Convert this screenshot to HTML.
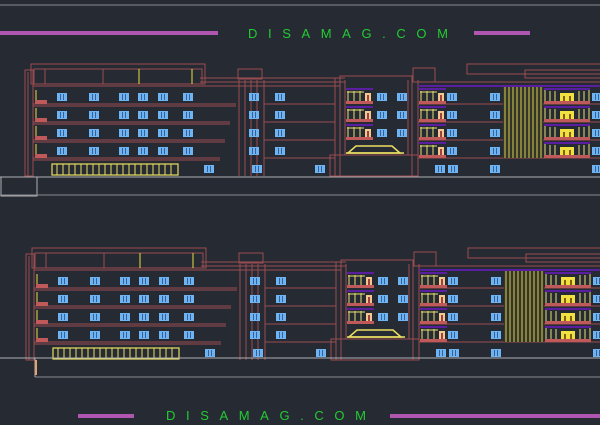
<!DOCTYPE html>
<html><head><meta charset="utf-8"><style>
html,body{margin:0;padding:0;background:#262a33;}
svg{display:block}
text{font-family:"Liberation Sans",sans-serif;}
</style></head><body>
<svg width="600" height="425" viewBox="0 0 600 425" xmlns="http://www.w3.org/2000/svg">
<defs>
<g id="w"><rect x="0" y="0" width="10" height="8" fill="#6eb4f2"/><line x1="3.5" y1="1" x2="3.5" y2="7" stroke="#2a4a80" stroke-width="0.8"/><line x1="6.5" y1="1" x2="6.5" y2="7" stroke="#2a4a80" stroke-width="0.8"/></g>
<g id="bal">
<rect x="0" y="0" width="27" height="2" fill="#5a1fa0"/>
<rect x="0" y="13" width="27" height="3" fill="#c05a5a"/>
<g stroke="#e8e070" stroke-width="1" fill="none"><line x1="2" y1="3" x2="2" y2="13"/><line x1="8" y1="3" x2="8" y2="13"/><line x1="14" y1="3" x2="14" y2="13"/><line x1="1" y1="4" x2="18" y2="4"/></g>
<rect x="19" y="5" width="6" height="8" fill="#f0c890"/><rect x="21" y="7" width="2" height="6" fill="#a04040"/>
</g>
<g id="bal2">
<rect x="0" y="0" width="46" height="2" fill="#5a1fa0"/>
<rect x="0" y="13" width="46" height="3" fill="#c05a5a"/>
<g stroke="#e8e070" stroke-width="1"><line x1="1" y1="2" x2="1" y2="13"/><line x1="6" y1="3" x2="6" y2="13"/><line x1="11" y1="3" x2="11" y2="13"/><line x1="35" y1="3" x2="35" y2="13"/><line x1="40" y1="3" x2="40" y2="13"/><line x1="45" y1="2" x2="45" y2="13"/></g>
<rect x="16" y="5" width="14" height="8" fill="#f0e040"/><rect x="19" y="8" width="2" height="5" fill="#806010"/><rect x="25" y="8" width="2" height="5" fill="#806010"/>
</g>
<g id="bldg" fill="none" stroke="#9a4c50" stroke-width="1">
<rect x="31" y="64" width="174" height="20"/>
<rect x="34" y="69" width="168" height="15"/>
<line x1="45" y1="69" x2="45" y2="84"/><line x1="103" y1="69" x2="103" y2="84"/>
<line x1="139" y1="69" x2="139" y2="84" stroke="#e8e040"/><line x1="192" y1="69" x2="192" y2="84" stroke="#e8e040"/>
<rect x="25" y="70" width="8" height="106"/>
<line x1="28" y1="72" x2="28" y2="176"/>
<line x1="33" y1="86" x2="340" y2="86"/>
<line x1="33" y1="104" x2="236" y2="104"/><line x1="33" y1="106" x2="236" y2="106"/>
<line x1="33" y1="122" x2="230" y2="122"/><line x1="33" y1="124" x2="230" y2="124"/>
<line x1="33" y1="140" x2="225" y2="140"/><line x1="33" y1="142" x2="225" y2="142"/>
<line x1="33" y1="158" x2="220" y2="158"/><line x1="33" y1="160" x2="220" y2="160"/>
<line x1="200" y1="78" x2="345" y2="78"/><line x1="200" y1="82" x2="345" y2="82"/>
<rect x="238" y="69" width="24" height="10"/>
<line x1="239" y1="80" x2="239" y2="176"/><line x1="245" y1="80" x2="245" y2="176"/><line x1="251" y1="80" x2="251" y2="176"/><line x1="257" y1="80" x2="257" y2="176"/><line x1="264" y1="80" x2="264" y2="176"/>
<line x1="264" y1="104" x2="335" y2="104"/><line x1="264" y1="122" x2="335" y2="122"/><line x1="264" y1="140" x2="335" y2="140"/><line x1="264" y1="158" x2="335" y2="158"/>
<line x1="335" y1="78" x2="335" y2="176"/>
<rect x="340" y="76" width="72" height="100"/>
<line x1="345" y1="80" x2="345" y2="155"/><line x1="408" y1="80" x2="408" y2="155"/>
<rect x="330" y="155" width="88" height="21"/>
<rect x="413" y="68" width="22" height="14"/>
<line x1="418" y1="82" x2="600" y2="82"/>
<rect x="467" y="64" width="140" height="10"/>
<rect x="525" y="70" width="80" height="8"/>
<line x1="418" y1="80" x2="418" y2="176"/>
<line x1="418" y1="104" x2="600" y2="104"/><line x1="418" y1="122" x2="600" y2="122"/><line x1="418" y1="140" x2="600" y2="140"/><line x1="418" y1="158" x2="600" y2="158"/>
</g>
<g id="fill">
<use href="#bldg"/>
<g fill="#c05a5a"><rect x="35" y="100" width="12" height="4"/><rect x="35" y="118" width="12" height="4"/><rect x="35" y="136" width="12" height="4"/><rect x="35" y="154" width="12" height="4"/></g>
<g stroke="#e8e040" stroke-width="1"><line x1="36" y1="90" x2="36" y2="100"/><line x1="36" y1="108" x2="36" y2="118"/><line x1="36" y1="126" x2="36" y2="136"/><line x1="36" y1="144" x2="36" y2="154"/></g>
<g>
<use href="#w" x="57" y="93"/><use href="#w" x="89" y="93"/><use href="#w" x="119" y="93"/><use href="#w" x="138" y="93"/><use href="#w" x="158" y="93"/><use href="#w" x="183" y="93"/><use href="#w" x="249" y="93"/><use href="#w" x="275" y="93"/>
<use href="#w" x="57" y="111"/><use href="#w" x="89" y="111"/><use href="#w" x="119" y="111"/><use href="#w" x="138" y="111"/><use href="#w" x="158" y="111"/><use href="#w" x="183" y="111"/><use href="#w" x="249" y="111"/><use href="#w" x="275" y="111"/>
<use href="#w" x="57" y="129"/><use href="#w" x="89" y="129"/><use href="#w" x="119" y="129"/><use href="#w" x="138" y="129"/><use href="#w" x="158" y="129"/><use href="#w" x="183" y="129"/><use href="#w" x="249" y="129"/><use href="#w" x="275" y="129"/>
<use href="#w" x="57" y="147"/><use href="#w" x="89" y="147"/><use href="#w" x="119" y="147"/><use href="#w" x="138" y="147"/><use href="#w" x="158" y="147"/><use href="#w" x="183" y="147"/><use href="#w" x="249" y="147"/><use href="#w" x="275" y="147"/>
<use href="#w" x="204" y="165"/><use href="#w" x="252" y="165"/><use href="#w" x="315" y="165"/>
<use href="#w" x="377" y="93"/><use href="#w" x="397" y="93"/><use href="#w" x="377" y="111"/><use href="#w" x="397" y="111"/><use href="#w" x="377" y="129"/><use href="#w" x="397" y="129"/>
<use href="#w" x="447" y="93"/><use href="#w" x="490" y="93"/><use href="#w" x="447" y="111"/><use href="#w" x="490" y="111"/><use href="#w" x="447" y="129"/><use href="#w" x="490" y="129"/><use href="#w" x="447" y="147"/><use href="#w" x="490" y="147"/>
<use href="#w" x="592" y="93"/><use href="#w" x="592" y="111"/><use href="#w" x="592" y="129"/><use href="#w" x="592" y="147"/>
<use href="#w" x="435" y="165"/><use href="#w" x="448" y="165"/><use href="#w" x="490" y="165"/><use href="#w" x="592" y="165"/>
</g>
<rect x="52" y="164" width="126" height="11" fill="none" stroke="#ece060" stroke-width="1.2"/>
<g stroke="#ece060" stroke-width="1">
<line x1="57" y1="164" x2="57" y2="175"/><line x1="63" y1="164" x2="63" y2="175"/><line x1="69" y1="164" x2="69" y2="175"/><line x1="75" y1="164" x2="75" y2="175"/><line x1="81" y1="164" x2="81" y2="175"/><line x1="87" y1="164" x2="87" y2="175"/><line x1="93" y1="164" x2="93" y2="175"/><line x1="99" y1="164" x2="99" y2="175"/><line x1="105" y1="164" x2="105" y2="175"/><line x1="111" y1="164" x2="111" y2="175"/><line x1="117" y1="164" x2="117" y2="175"/><line x1="123" y1="164" x2="123" y2="175"/><line x1="129" y1="164" x2="129" y2="175"/><line x1="135" y1="164" x2="135" y2="175"/><line x1="141" y1="164" x2="141" y2="175"/><line x1="147" y1="164" x2="147" y2="175"/><line x1="153" y1="164" x2="153" y2="175"/><line x1="159" y1="164" x2="159" y2="175"/><line x1="165" y1="164" x2="165" y2="175"/><line x1="171" y1="164" x2="171" y2="175"/>
</g>
<use href="#bal" x="346" y="88"/><use href="#bal" x="346" y="106"/><use href="#bal" x="346" y="124"/>
<use href="#bal" x="419" y="88"/><use href="#bal" x="419" y="106"/><use href="#bal" x="419" y="124"/><use href="#bal" x="419" y="142"/>
<use href="#bal2" x="544" y="88"/><use href="#bal2" x="544" y="106"/><use href="#bal2" x="544" y="124"/><use href="#bal2" x="544" y="142"/>
<rect x="503" y="86" width="40" height="72" fill="#33352c"/>
<g stroke="#d8d048" stroke-width="1">
<line x1="505" y1="86" x2="505" y2="158"/><line x1="509" y1="86" x2="509" y2="158"/><line x1="513" y1="86" x2="513" y2="158"/><line x1="517" y1="86" x2="517" y2="158"/><line x1="521" y1="86" x2="521" y2="158"/><line x1="525" y1="86" x2="525" y2="158"/><line x1="529" y1="86" x2="529" y2="158"/><line x1="533" y1="86" x2="533" y2="158"/><line x1="537" y1="86" x2="537" y2="158"/><line x1="541" y1="86" x2="541" y2="158"/>
</g>
<line x1="418" y1="86" x2="600" y2="86" stroke="#5a1fa0" stroke-width="2"/>
<path d="M348 153 L356 146 L392 146 L400 153 Z" fill="none" stroke="#ece060" stroke-width="1.5"/>
<line x1="346" y1="153" x2="404" y2="153" stroke="#ece060" stroke-width="1.5"/>
</g>
</defs>
<rect width="600" height="425" fill="#262a33"/>
<line x1="0" y1="5" x2="600" y2="5" stroke="#8a8a90" stroke-width="1"/>
<rect x="0" y="31" width="218" height="4" fill="#b056b0"/>
<rect x="474" y="31" width="56" height="4" fill="#b056b0"/>
<text x="248" y="38" font-size="13" fill="#22cc33" letter-spacing="10.6">DISAMAG.COM</text>
<use href="#fill"/>
<line x1="0" y1="177" x2="600" y2="177" stroke="#b0b0b5" stroke-width="1"/>
<rect x="1" y="177" width="36" height="19" fill="none" stroke="#b0b0b5"/>
<line x1="0" y1="195" x2="600" y2="195" stroke="#8a8a90" stroke-width="1"/>
<g transform="translate(1,184)"><use href="#fill"/></g>
<line x1="0" y1="358" x2="600" y2="358" stroke="#b0b0b5" stroke-width="1"/>
<line x1="35" y1="358" x2="35" y2="377" stroke="#b0b0b5"/>
<rect x="35" y="360" width="2" height="15" fill="#e8a070"/>
<line x1="35" y1="377" x2="600" y2="377" stroke="#8a8a90" stroke-width="1"/>
<rect x="78" y="414" width="56" height="4" fill="#b056b0"/>
<rect x="390" y="414" width="210" height="4" fill="#b056b0"/>
<text x="166" y="420" font-size="13" fill="#22cc33" letter-spacing="10.6">DISAMAG.COM</text>
</svg>
</body></html>
